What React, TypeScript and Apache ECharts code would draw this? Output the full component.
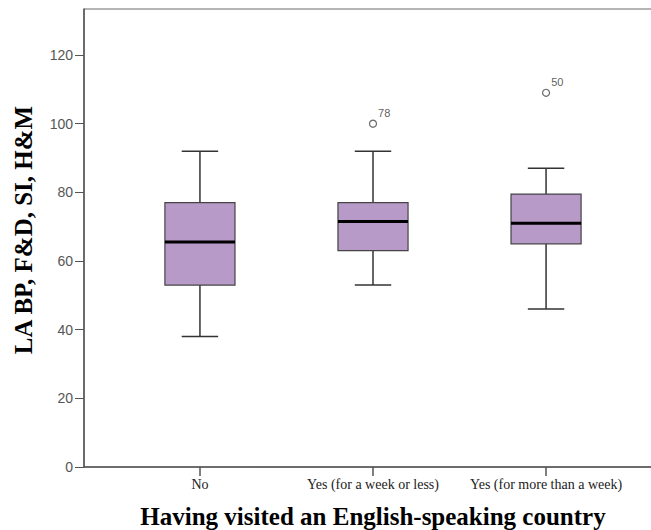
import React, { useEffect, useRef } from "react";
import * as echarts from "echarts";

const categories = ["No", "Yes (for a week or less)", "Yes (for more than a week)"];
const whiskerLow = [38, 53, 46];
const quartile1 = [53, 63, 65];
const medians = [65.5, 71.5, 71];
const quartile3 = [77, 77, 79.5];
const whiskerHigh = [92, 92, 87];
const outlierGroup = [1, 2];
const outlierValues = [100, 109];
const outlierIds = ["78", "50"];
const yTicks = [0, 20, 40, 60, 80, 100, 120];

export default function App() {
  const ref = useRef<HTMLDivElement>(null);
  useEffect(() => {
    if (!ref.current) return;
    const chart = echarts.init(ref.current, null, { renderer: "svg" });
    const boxData = categories.map((_, i) => [
      i,
      whiskerLow[i],
      quartile1[i],
      medians[i],
      quartile3[i],
      whiskerHigh[i],
    ]);
    const outlierData = outlierGroup.map((g, i) => [g, outlierValues[i], outlierIds[i]]);
    const lineColor = "#333";
    chart.setOption({
      animation: false,
      backgroundColor: "#fff",
      grid: {
        left: 84,
        top: 9,
        width: 578,
        height: 458,
        show: true,
        borderColor: "#6a6a6a",
        borderWidth: 1,
        containLabel: false,
        outerBoundsMode: "none",
      },
      xAxis: {
        type: "value",
        min: -0.67,
        max: 2.67,
        splitLine: { show: false },
        axisLine: { show: true, onZero: false, lineStyle: { color: "#555", width: 1.5 } },
        axisTick: {
          show: true,
          customValues: [0, 1, 2],
          length: 9,
          lineStyle: { color: "#555", width: 1.5 },
        },
        axisLabel: {
          customValues: [0, 1, 2],
          formatter: (v: number) => categories[Math.round(v)] ?? "",
          fontFamily: "'Liberation Serif', serif",
          fontSize: 14,
          color: "#222",
          margin: 10,
        },
        name: "Having visited an English-speaking country",
        nameLocation: "middle",
        nameGap: 37,
        nameTextStyle: {
          fontFamily: "'Liberation Serif', serif",
          fontWeight: "bold",
          fontSize: 25,
          color: "#000",
        },
      },
      yAxis: {
        type: "value",
        min: 0,
        max: 133.4,
        splitLine: { show: false },
        axisLine: { show: true, onZero: false, lineStyle: { color: "#555", width: 1.5 } },
        axisTick: {
          show: true,
          customValues: yTicks,
          length: 9,
          lineStyle: { color: "#555", width: 1 },
        },
        axisLabel: {
          customValues: yTicks,
          fontFamily: "'Liberation Sans', sans-serif",
          fontSize: 14,
          color: "#555",
          margin: 11,
        },
        name: "LA BP, F&D, SI, H&M",
        nameLocation: "middle",
        nameGap: 48,
        nameTextStyle: {
          fontFamily: "'Liberation Serif', serif",
          fontWeight: "bold",
          fontSize: 25,
          color: "#000",
          padding: [0, 0, 0, 16],
        },
      },
      series: [
        {
          type: "custom",
          data: boxData,
          encode: { x: 0, y: [1, 2, 3, 4, 5] },
          renderItem: (params: any, api: any) => {
            const x = api.value(0);
            const band = api.size([1, 0])[0];
            const bw = band * 0.405;
            const cw = bw * 0.52;
            const pLo = api.coord([x, api.value(1)]);
            const pQ1 = api.coord([x, api.value(2)]);
            const pMed = api.coord([x, api.value(3)]);
            const pQ3 = api.coord([x, api.value(4)]);
            const pHi = api.coord([x, api.value(5)]);
            const cx = pMed[0];
            const ls = { stroke: lineColor, lineWidth: 1.5 };
            return {
              type: "group",
              children: [
                { type: "line", shape: { x1: cx, y1: pLo[1], x2: cx, y2: pQ1[1] }, style: ls },
                { type: "line", shape: { x1: cx, y1: pQ3[1], x2: cx, y2: pHi[1] }, style: ls },
                { type: "line", shape: { x1: cx - cw / 2, y1: pLo[1], x2: cx + cw / 2, y2: pLo[1] }, style: ls },
                { type: "line", shape: { x1: cx - cw / 2, y1: pHi[1], x2: cx + cw / 2, y2: pHi[1] }, style: ls },
                {
                  type: "rect",
                  shape: { x: cx - bw / 2, y: pQ3[1], width: bw, height: pQ1[1] - pQ3[1] },
                  style: { fill: "#b89ac8", stroke: "#444", lineWidth: 1.2 },
                },
                {
                  type: "line",
                  shape: { x1: cx - bw / 2, y1: pMed[1], x2: cx + bw / 2, y2: pMed[1] },
                  style: { stroke: "#000", lineWidth: 3 },
                },
              ],
            };
          },
        },
        {
          type: "scatter",
          data: outlierData,
          symbol: "circle",
          symbolSize: 7,
          itemStyle: { color: "#fff", borderColor: "#444", borderWidth: 1.2 },
          label: {
            show: true,
            position: "right",
            distance: 1,
            offset: [0, -11],
            formatter: (p: any) => p.data[2],
            fontFamily: "'Liberation Sans', sans-serif",
            fontSize: 11,
            color: "#333333",
            textBorderWidth: 0,
          },
        },
      ],
    });
    return () => chart.dispose();
  }, []);
  return (
    <div
      ref={ref}
      style={{ position: "fixed", left: 0, top: 0, width: 651, height: 530 }}
    />
  );
}
